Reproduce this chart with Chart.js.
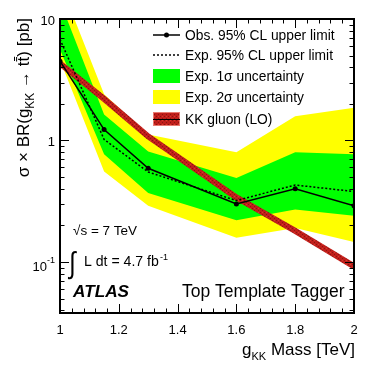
<!DOCTYPE html>
<html lang="en">
<head>
<meta charset="UTF-8">
<title>KK gluon cross-section limit</title>
<script src="https://cdn.jsdelivr.net/npm/chart.js"></script>
<style>
  html, body { margin: 0; padding: 0; background: #fff; }
  #wrap { width: 374px; height: 374px; }
</style>
</head>
<body>
<div id="wrap"><canvas id="limitChart" width="374" height="374"></canvas></div>
<script>
// g_KK mass points [TeV] and limits [pb]
const masses   = [1.0, 1.15, 1.3, 1.6, 1.8, 2.0];
const observed = [4.5, 1.23, 0.59, 0.30, 0.40, 0.29];
const expected = [6.8, 1.02, 0.55, 0.32, 0.43, 0.38];
const sig1Up   = [14, 1.64, 0.81, 0.49, 0.80, 0.77];
const sig1Down = [5.6, 0.77, 0.37, 0.22, 0.27, 0.24];
const sig2Up   = [20, 2.4, 1.12, 0.80, 1.58, 1.86];
const sig2Down = [4.6, 0.555, 0.29, 0.158, 0.19, 0.146];
const kkGluon  = [4.3, 2.2, 1.08, 0.34, 0.18, 0.092];

const xTickLabels = ['1', '1.2', '1.4', '1.6', '1.8', '2'];
const legendLabels = ['Obs. 95% CL upper limit', 'Exp. 95% CL upper limit',
                      'Exp. 1\u03c3 uncertainty', 'Exp. 2\u03c3 uncertainty', 'KK gluon (LO)'];

const FONT = '"Liberation Sans", Arial, Helvetica, sans-serif';
const GREEN = '#00ff00', YELLOW = '#ffff00';

const pts = arr => masses.map((m, i) => ({ x: m, y: arr[i] }));

// hatched red used for the KK gluon curve
function redPattern(ctx) {
  const c = document.createElement('canvas');
  c.width = 4; c.height = 4;
  const g = c.getContext('2d');
  g.fillStyle = '#c01e1a'; g.fillRect(0, 0, 4, 4);
  g.fillStyle = '#8a1410'; g.fillRect(0, 0, 1, 1); g.fillRect(2, 2, 1, 1);
  g.fillStyle = '#d8382e'; g.fillRect(2, 0, 1, 1);
  return ctx.createPattern(c, 'repeat');
}

function fitSize(ctx, text, width, style) {
  ctx.font = style + ' 100px ' + FONT;
  return 100 * width / ctx.measureText(text).width;
}

const decorations = {
  id: 'decorations',
  afterDraw(chart) {
    const ctx = chart.ctx;
    const a = chart.chartArea;
    const xs = chart.scales.x, ys = chart.scales.y;
    ctx.save();
    ctx.fillStyle = '#000';
    ctx.strokeStyle = '#000';

    // ticks on all four sides, pointing inwards
    ctx.lineWidth = 1;
    ctx.beginPath();
    for (let i = 0; i <= 25; i++) {
      const v = 1 + i * 0.04;
      const px = Math.round(xs.getPixelForValue(v)) + 0.5;
      const len = i % 5 === 0 ? 9 : 4.5;
      ctx.moveTo(px, a.bottom); ctx.lineTo(px, a.bottom - len);
      ctx.moveTo(px, a.top); ctx.lineTo(px, a.top + len);
    }
    for (let d = -2; d <= 1; d++) {
      for (let k = 1; k <= 9; k++) {
        const v = k * Math.pow(10, d);
        if (v < ys.min || v > ys.max * 1.0001) continue;
        const py = Math.round(ys.getPixelForValue(v)) + 0.5;
        const len = k === 1 ? 9 : 4.5;
        ctx.moveTo(a.left, py); ctx.lineTo(a.left + len, py);
        ctx.moveTo(a.right, py); ctx.lineTo(a.right - len, py);
      }
    }
    ctx.stroke();

    // frame
    ctx.lineWidth = 2;
    ctx.strokeRect(a.left, a.top, a.right - a.left, a.bottom - a.top);

    // x tick labels
    ctx.font = '13px ' + FONT;
    ctx.textAlign = 'center';
    ctx.textBaseline = 'alphabetic';
    xTickLabels.forEach((t, i) => {
      ctx.fillText(t, xs.getPixelForValue(1 + i * 0.2), a.bottom + 21);
    });

    // y tick labels
    ctx.textAlign = 'right';
    ctx.fillText('10', 55, ys.getPixelForValue(10) + 6);
    ctx.fillText('1', 55, ys.getPixelForValue(1) + 6);
    ctx.font = '9px ' + FONT;
    ctx.fillText('-1', 55, ys.getPixelForValue(0.1) + 1);
    ctx.font = '13px ' + FONT;
    ctx.fillText('10', 47, ys.getPixelForValue(0.1) + 9);

    // x axis title
    ctx.textAlign = 'left';
    ctx.font = '17px ' + FONT;
    const tMass = ' Mass [TeV]';
    const wMass = ctx.measureText(tMass).width;
    ctx.font = '11px ' + FONT;
    const wKK = ctx.measureText('KK').width;
    ctx.font = '17px ' + FONT;
    const wG = ctx.measureText('g').width;
    let xx = 355 - wMass - wKK - wG;
    ctx.fillText('g', xx, 355);
    ctx.font = '11px ' + FONT;
    ctx.fillText('KK', xx + wG, 360);
    ctx.font = '17px ' + FONT;
    ctx.fillText(tMass, xx + wG + wKK, 355);

    // y axis title, rotated, right-aligned to the top of the frame
    ctx.save();
    ctx.translate(29, a.top - 1);
    ctx.rotate(-Math.PI / 2);
    const p1 = '\u03c3 \u00d7 BR(g', p2 = 'KK', p3 = ' \u2192 tt\u0304) [pb]';
    ctx.font = '17px ' + FONT;
    const w1 = ctx.measureText(p1).width, w3 = ctx.measureText(p3).width;
    ctx.font = '12px ' + FONT;
    const w2 = ctx.measureText(p2).width;
    let yx = -(w1 + w2 + w3);
    ctx.font = '17px ' + FONT;
    ctx.fillText(p1, yx, 0);
    ctx.font = '12px ' + FONT;
    ctx.fillText(p2, yx + w1, 5);
    ctx.font = '17px ' + FONT;
    ctx.fillText(p3, yx + w1 + w2, 0);
    // bar over the second t
    const wt = ctx.measureText(' \u2192 t').width;
    const wtt = ctx.measureText('t').width;
    ctx.fillRect(yx + w1 + w2 + wt + 0.5, -15, wtt - 0.5, 1);
    ctx.restore();

    // legend
    const lx0 = 153, lx1 = 180, tx = 185;
    const rows = [35, 55, 76, 97, 119];
    ctx.lineWidth = 1.5;
    ctx.beginPath(); ctx.moveTo(lx0, rows[0]); ctx.lineTo(lx1, rows[0]); ctx.stroke();
    ctx.beginPath(); ctx.arc((lx0 + lx1) / 2, rows[0], 2.5, 0, Math.PI * 2); ctx.fill();
    ctx.setLineDash([2, 2]);
    ctx.beginPath(); ctx.moveTo(lx0, rows[1]); ctx.lineTo(lx1, rows[1]); ctx.stroke();
    ctx.setLineDash([]);
    ctx.fillStyle = GREEN; ctx.fillRect(lx0, rows[2] - 7, lx1 - lx0, 14);
    ctx.fillStyle = YELLOW; ctx.fillRect(lx0, rows[3] - 7, lx1 - lx0, 14);
    ctx.fillStyle = redPattern(ctx); ctx.fillRect(lx0, rows[4] - 7, lx1 - lx0, 14);
    ctx.strokeStyle = '#e87a70'; ctx.lineWidth = 1;
    ctx.strokeRect(lx0 + 0.5, rows[4] - 6.5, lx1 - lx0 - 1, 13);
    ctx.strokeStyle = '#000';
    ctx.beginPath(); ctx.moveTo(lx0, rows[4] + 0.5); ctx.lineTo(lx1, rows[4] + 0.5); ctx.stroke();

    ctx.fillStyle = '#000';
    const lsize = fitSize(ctx, legendLabels[0], 150, '');
    ctx.font = lsize.toFixed(1) + 'px ' + FONT;
    ctx.textAlign = 'left';
    ctx.textBaseline = 'middle';
    legendLabels.forEach((t, i) => ctx.fillText(t, tx, rows[i] + 1));

    // annotations
    ctx.textBaseline = 'alphabetic';
    ctx.font = fitSize(ctx, '\u221as = 7 TeV', 64, '').toFixed(1) + 'px ' + FONT;
    ctx.fillText('\u221as = 7 TeV', 73, 235);
    ctx.font = '30px ' + FONT;
    ctx.save();
    ctx.scale(0.8, 1);
    ctx.fillText('\u222b', 69 / 0.8, 273);
    ctx.restore();
    ctx.font = fitSize(ctx, 'L dt = 4.7 fb', 75, '').toFixed(1) + 'px ' + FONT;
    ctx.fillText('L dt = 4.7 fb', 84, 266);
    ctx.font = '9px ' + FONT;
    ctx.fillText('-1', 160, 260);

    ctx.font = fitSize(ctx, 'ATLAS', 56, 'italic bold').toFixed(1) + 'px ' + FONT;
    ctx.font = 'italic bold ' + ctx.font;
    ctx.fillText('ATLAS', 73, 297);
    ctx.font = fitSize(ctx, 'Top Template Tagger', 162, '').toFixed(1) + 'px ' + FONT;
    ctx.fillText('Top Template Tagger', 182, 297);

    ctx.restore();
  }
};

const ctx = document.getElementById('limitChart').getContext('2d');

const band = (data, color, target) => ({
  data: pts(data),
  borderWidth: 0,
  pointRadius: 0,
  backgroundColor: color,
  borderColor: color,
  fill: target === undefined ? false : { target: target },
  tension: 0
});

new Chart(ctx, {
  type: 'line',
  data: {
    datasets: [
      {
        label: 'observed',
        data: pts(observed),
        borderColor: '#000',
        backgroundColor: '#000',
        borderWidth: 1.5,
        pointRadius: 2.5,
        pointBorderWidth: 0,
        fill: false
      },
      {
        label: 'expected',
        data: pts(expected),
        borderColor: '#000',
        borderWidth: 1.5,
        borderDash: [2, 2],
        pointRadius: 0,
        fill: false
      },
      {
        label: 'kk',
        data: pts(kkGluon),
        borderColor: redPattern(ctx),
        borderWidth: 6,
        pointRadius: 0,
        fill: false
      },
      band(sig1Up, GREEN, 4),
      band(sig1Down, GREEN),
      band(sig2Up, YELLOW, 6),
      band(sig2Down, YELLOW)
    ]
  },
  options: {
    responsive: false,
    animation: false,
    events: [],
    layout: { padding: { top: 19, right: 20, left: 0, bottom: 0 } },
    plugins: { legend: { display: false }, tooltip: { enabled: false } },
    scales: {
      x: {
        type: 'linear', min: 1, max: 2,
        ticks: { display: false },
        grid: { display: false },
        border: { display: false },
        afterFit: s => { s.height = 61; }
      },
      y: {
        type: 'logarithmic', min: 0.038, max: 10,
        ticks: { display: false },
        grid: { display: false },
        border: { display: false },
        afterFit: s => { s.width = 60; }
      }
    }
  },
  plugins: [decorations]
});
</script>
</body>
</html>
